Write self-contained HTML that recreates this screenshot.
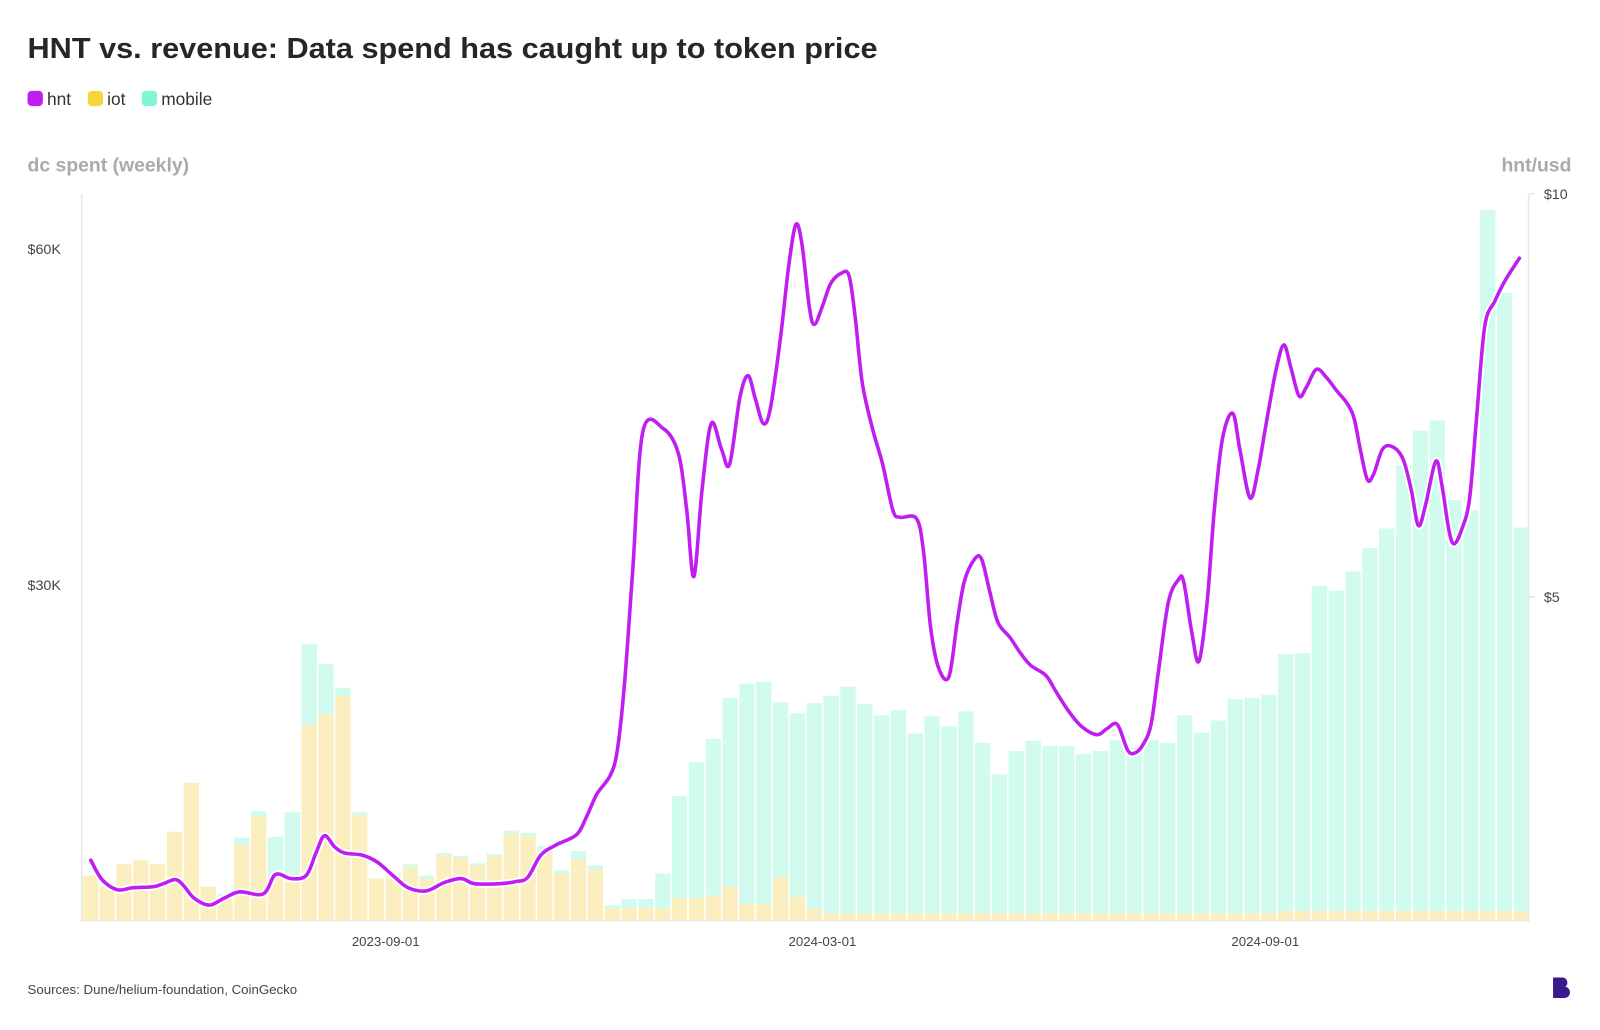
<!DOCTYPE html>
<html><head><meta charset="utf-8"><style>
html,body{margin:0;padding:0;background:#fff;}
svg{display:block;font-family:"Liberation Sans",sans-serif;}
</style></head><body>
<svg id="c" width="1600" height="1030" viewBox="0 0 1568 1009.4" xmlns="http://www.w3.org/2000/svg">
<rect width="1568" height="1010" fill="#fff"/>
<text x="27" y="57" font-size="28" font-weight="bold" fill="#262626" textLength="833" lengthAdjust="spacingAndGlyphs">HNT vs. revenue: Data spend has caught up to token price</text>
<rect x="27" y="89" width="15" height="15" rx="4" fill="#c01ef0"/>
<text x="46" y="103" font-size="17" fill="#333">hnt</text>
<rect x="86" y="89" width="15" height="15" rx="4" fill="#f5d63d"/>
<text x="105" y="103" font-size="17" fill="#333">iot</text>
<rect x="139" y="89" width="15" height="15" rx="4" fill="#7ff7d4"/>
<text x="158" y="103" font-size="17" fill="#333">mobile</text>
<text x="27" y="168" font-size="19" font-weight="bold" fill="#aaa">dc spent (weekly)</text>
<text x="1540" y="168" font-size="19" font-weight="bold" fill="#aaa" text-anchor="end">hnt/usd</text>
<text x="27" y="249" font-size="14" fill="#444">$60K</text>
<text x="27" y="578" font-size="14" fill="#444">$30K</text>
<text x="1513" y="195" font-size="14" fill="#444">$10</text>
<text x="1513" y="590" font-size="14" fill="#444">$5</text>
<g id="bars"></g>
<line x1="80" y1="190" x2="80" y2="903" stroke="#e6e6e6" stroke-width="1.5"/>
<line x1="1498" y1="190" x2="1498" y2="903" stroke="#e6e6e6" stroke-width="1.5"/>
<line x1="1498" y1="190" x2="1504" y2="190" stroke="#e6e6e6" stroke-width="1.5"/>
<line x1="1498" y1="585" x2="1504" y2="585" stroke="#e6e6e6" stroke-width="1.5"/>
<line x1="80" y1="902.5" x2="1498" y2="902.5" stroke="#e6e6e6" stroke-width="1"/>
<g id="line"></g>
<text x="378" y="927" font-size="13" fill="#444" text-anchor="middle">2023-09-01</text>
<text x="806" y="927" font-size="13" fill="#444" text-anchor="middle">2024-03-01</text>
<text x="1240" y="927" font-size="13" fill="#444" text-anchor="middle">2024-09-01</text>
<text x="27" y="974" font-size="13" fill="#444">Sources: Dune/helium-foundation, CoinGecko</text>
<path d="M1522 958 h9 a5 5 0 0 1 3 9 a5 5 0 0 1 -2 11 h-10 z" fill="#3a1a8c"/>
</svg>
<script>
var tot=[858,868,847,843,847,815,767,869,876,821,795,820,796,631,651,674,796,861,857,847,858,836,839,846,837,814,816,829,853,834,848,887,881,881,856,780,747,724,684,670,668,688,699,689,682,673,690,701,696,719,702,712,697,728,759,736,726,731,731,739,736,725,733,725,728,701,718,706,685,684,681,641,640,574,579,560,537,518,456,422,412,490,500,206,287,517];
var iot=[858,868,847,843,847,815,767,869,880,828,800,858,858,710,700,682,799,861,859,850,861,838,841,848,839,817,819,833,856,842,852,890,890,890,890,880,880,878,869,886,886,860,879,891,895];
var ns="http://www.w3.org/2000/svg",g=document.getElementById("bars"),B=902;
function r(x,y,w,h,f){var e=document.createElementNS(ns,"rect");e.setAttribute("x",x);e.setAttribute("y",y);e.setAttribute("width",w);e.setAttribute("height",Math.max(0,h));e.setAttribute("fill",f);g.appendChild(e);}
for(var i=0;i<tot.length;i++){var x=81+i*16.5,t=tot[i],io=i<iot.length?iot[i]:(i>70?893:895);
if(io>t) r(x,t,15,io-t,"#d1fbee");
r(x,io,15,B-io,"#fbefbf");}
var p=[[89,843],[100,862],[115,872],[130,870],[150,869],[160,866],[172,862],[180,868],[190,880],[205,887],[220,880],[235,874],[258,876],[270,857],[285,861],[300,858],[310,835],[318,819],[328,830],[338,836],[355,838],[370,845],[385,858],[400,870],[418,873],[435,865],[452,861],[465,866],[490,866],[505,864],[517,860],[530,838],[545,828],[565,818],[575,800],[585,778],[598,760],[605,735],[612,670],[620,560],[630,423],[650,420],[665,445],[673,500],[680,565],[688,480],[697,415],[707,440],[715,455],[725,390],[733,368],[740,390],[748,415],[755,400],[765,330],[773,260],[780,220],[786,240],[793,300],[798,318],[806,300],[814,278],[824,268],[832,270],[838,310],[845,375],[855,420],[865,455],[875,500],[882,507],[898,508],[905,540],[912,615],[920,655],[930,663],[938,610],[945,570],[955,548],[962,548],[970,580],[978,610],[990,625],[1000,640],[1010,652],[1025,662],[1035,678],[1048,698],[1060,712],[1075,720],[1085,714],[1095,710],[1105,735],[1112,738],[1120,730],[1128,710],[1135,660],[1145,590],[1155,568],[1160,570],[1168,620],[1175,648],[1183,590],[1190,500],[1198,430],[1208,405],[1215,440],[1225,488],[1233,460],[1240,420],[1250,365],[1258,338],[1265,360],[1273,388],[1280,380],[1290,362],[1300,370],[1310,383],[1320,395],[1327,410],[1333,440],[1340,470],[1346,465],[1355,440],[1365,438],[1375,450],[1383,480],[1390,515],[1397,495],[1407,452],[1413,475],[1420,520],[1425,533],[1432,520],[1440,490],[1447,410],[1455,320],[1465,295],[1475,275],[1489,253]];
var d="M"+p[0][0]+" "+p[0][1];
for(var k=0;k<p.length-1;k++){var p0=p[k-1]||p[k],p1=p[k],p2=p[k+1],p3=p[k+2]||p2,tn=0.5/3;
d+=" C"+(p1[0]+(p2[0]-p0[0])*tn)+" "+(p1[1]+(p2[1]-p0[1])*tn)+" "+(p2[0]-(p3[0]-p1[0])*tn)+" "+(p2[1]-(p3[1]-p1[1])*tn)+" "+p2[0]+" "+p2[1];}
var L=document.getElementById("line");
L.innerHTML='<path d="'+d+'" fill="none" stroke="#fff" stroke-width="7" stroke-linejoin="round" stroke-linecap="round"/><path d="'+d+'" fill="none" stroke="#c01ef0" stroke-width="3.5" stroke-linejoin="round" stroke-linecap="round"/>';
</script>
</body></html>
